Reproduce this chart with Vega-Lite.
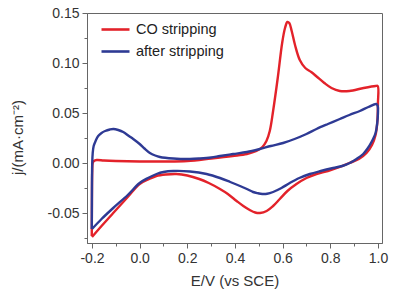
{
"$schema": "https://vega.github.io/schema/vega-lite/v6.json",
"width": 295, "height": 230,
"autosize": {"type": "none"},
"padding": {"left": 87, "top": 13, "right": 28, "bottom": 57},
"config": {
 "font": "Liberation Sans",
 "view": {"stroke": "#666", "strokeWidth": 1},
 "axis": {"grid": false, "domainColor": "#666", "tickColor": "#666", "labelColor": "#333", "titleColor": "#333", "labelFontSize": 14, "titleFontSize": 15, "titleFontWeight": "normal", "labelPadding": 3}
},
"data": {"values": [
{"s":"CO stripping","o":1,"E":-0.201,"j":-0.073},
{"s":"CO stripping","o":2,"E":-0.2005,"j":-0.05},
{"s":"CO stripping","o":3,"E":-0.2,"j":-0.025},
{"s":"CO stripping","o":4,"E":-0.199,"j":-0.008},
{"s":"CO stripping","o":5,"E":-0.197,"j":0.0},
{"s":"CO stripping","o":6,"E":-0.192,"j":0.002},
{"s":"CO stripping","o":7,"E":-0.18,"j":0.003},
{"s":"CO stripping","o":8,"E":-0.15,"j":0.0025},
{"s":"CO stripping","o":9,"E":-0.1,"j":0.002},
{"s":"CO stripping","o":10,"E":0.0,"j":0.0015},
{"s":"CO stripping","o":11,"E":0.1,"j":0.0015},
{"s":"CO stripping","o":12,"E":0.2,"j":0.002},
{"s":"CO stripping","o":13,"E":0.3,"j":0.0045},
{"s":"CO stripping","o":14,"E":0.39,"j":0.007},
{"s":"CO stripping","o":15,"E":0.45,"j":0.009},
{"s":"CO stripping","o":16,"E":0.49,"j":0.012},
{"s":"CO stripping","o":17,"E":0.515,"j":0.016},
{"s":"CO stripping","o":18,"E":0.532,"j":0.022},
{"s":"CO stripping","o":19,"E":0.546,"j":0.032},
{"s":"CO stripping","o":20,"E":0.56,"j":0.052},
{"s":"CO stripping","o":21,"E":0.58,"j":0.086},
{"s":"CO stripping","o":22,"E":0.598,"j":0.12},
{"s":"CO stripping","o":23,"E":0.61,"j":0.135},
{"s":"CO stripping","o":24,"E":0.62,"j":0.141},
{"s":"CO stripping","o":25,"E":0.628,"j":0.14},
{"s":"CO stripping","o":26,"E":0.638,"j":0.132},
{"s":"CO stripping","o":27,"E":0.652,"j":0.118},
{"s":"CO stripping","o":28,"E":0.672,"j":0.103},
{"s":"CO stripping","o":29,"E":0.695,"j":0.095},
{"s":"CO stripping","o":30,"E":0.72,"j":0.091},
{"s":"CO stripping","o":31,"E":0.745,"j":0.086},
{"s":"CO stripping","o":32,"E":0.775,"j":0.08},
{"s":"CO stripping","o":33,"E":0.805,"j":0.075},
{"s":"CO stripping","o":34,"E":0.84,"j":0.072},
{"s":"CO stripping","o":35,"E":0.88,"j":0.072},
{"s":"CO stripping","o":36,"E":0.94,"j":0.075},
{"s":"CO stripping","o":37,"E":0.99,"j":0.077},
{"s":"CO stripping","o":38,"E":0.999,"j":0.077},
{"s":"CO stripping","o":39,"E":1.0,"j":0.06},
{"s":"CO stripping","o":40,"E":0.997,"j":0.04},
{"s":"CO stripping","o":41,"E":0.99,"j":0.028},
{"s":"CO stripping","o":42,"E":0.975,"j":0.018},
{"s":"CO stripping","o":43,"E":0.952,"j":0.010},
{"s":"CO stripping","o":44,"E":0.92,"j":0.004},
{"s":"CO stripping","o":45,"E":0.88,"j":0.0},
{"s":"CO stripping","o":46,"E":0.84,"j":-0.004},
{"s":"CO stripping","o":47,"E":0.79,"j":-0.008},
{"s":"CO stripping","o":48,"E":0.742,"j":-0.011},
{"s":"CO stripping","o":49,"E":0.7,"j":-0.015},
{"s":"CO stripping","o":50,"E":0.658,"j":-0.021},
{"s":"CO stripping","o":51,"E":0.62,"j":-0.028},
{"s":"CO stripping","o":52,"E":0.588,"j":-0.036},
{"s":"CO stripping","o":53,"E":0.56,"j":-0.043},
{"s":"CO stripping","o":54,"E":0.533,"j":-0.048},
{"s":"CO stripping","o":55,"E":0.505,"j":-0.050},
{"s":"CO stripping","o":56,"E":0.485,"j":-0.0495},
{"s":"CO stripping","o":57,"E":0.462,"j":-0.047},
{"s":"CO stripping","o":58,"E":0.435,"j":-0.043},
{"s":"CO stripping","o":59,"E":0.407,"j":-0.038},
{"s":"CO stripping","o":60,"E":0.37,"j":-0.031},
{"s":"CO stripping","o":61,"E":0.337,"j":-0.026},
{"s":"CO stripping","o":62,"E":0.29,"j":-0.020},
{"s":"CO stripping","o":63,"E":0.25,"j":-0.016},
{"s":"CO stripping","o":64,"E":0.2,"j":-0.0125},
{"s":"CO stripping","o":65,"E":0.155,"j":-0.011},
{"s":"CO stripping","o":66,"E":0.11,"j":-0.0115},
{"s":"CO stripping","o":67,"E":0.07,"j":-0.013},
{"s":"CO stripping","o":68,"E":0.04,"j":-0.016},
{"s":"CO stripping","o":69,"E":0.0,"j":-0.021},
{"s":"CO stripping","o":70,"E":-0.05,"j":-0.034},
{"s":"CO stripping","o":71,"E":-0.111,"j":-0.050},
{"s":"CO stripping","o":72,"E":-0.16,"j":-0.063},
{"s":"CO stripping","o":73,"E":-0.2,"j":-0.074},
{"s":"after stripping","o":1,"E":-0.201,"j":-0.066},
{"s":"after stripping","o":2,"E":-0.2005,"j":-0.04},
{"s":"after stripping","o":3,"E":-0.2,"j":-0.015},
{"s":"after stripping","o":4,"E":-0.199,"j":0.0},
{"s":"after stripping","o":5,"E":-0.197,"j":0.010},
{"s":"after stripping","o":6,"E":-0.193,"j":0.017},
{"s":"after stripping","o":7,"E":-0.185,"j":0.022},
{"s":"after stripping","o":8,"E":-0.174,"j":0.027},
{"s":"after stripping","o":9,"E":-0.16,"j":0.030},
{"s":"after stripping","o":10,"E":-0.145,"j":0.032},
{"s":"after stripping","o":11,"E":-0.125,"j":0.0335},
{"s":"after stripping","o":12,"E":-0.11,"j":0.034},
{"s":"after stripping","o":13,"E":-0.09,"j":0.033},
{"s":"after stripping","o":14,"E":-0.069,"j":0.031},
{"s":"after stripping","o":15,"E":-0.045,"j":0.027},
{"s":"after stripping","o":16,"E":-0.027,"j":0.024},
{"s":"after stripping","o":17,"E":0.0,"j":0.019},
{"s":"after stripping","o":18,"E":0.02,"j":0.0145},
{"s":"after stripping","o":19,"E":0.043,"j":0.010},
{"s":"after stripping","o":20,"E":0.065,"j":0.0075},
{"s":"after stripping","o":21,"E":0.085,"j":0.006},
{"s":"after stripping","o":22,"E":0.141,"j":0.0045},
{"s":"after stripping","o":23,"E":0.211,"j":0.004},
{"s":"after stripping","o":24,"E":0.253,"j":0.0045},
{"s":"after stripping","o":25,"E":0.3,"j":0.0055},
{"s":"after stripping","o":26,"E":0.337,"j":0.007},
{"s":"after stripping","o":27,"E":0.392,"j":0.009},
{"s":"after stripping","o":28,"E":0.45,"j":0.011},
{"s":"after stripping","o":29,"E":0.504,"j":0.014},
{"s":"after stripping","o":30,"E":0.55,"j":0.017},
{"s":"after stripping","o":31,"E":0.602,"j":0.020},
{"s":"after stripping","o":32,"E":0.65,"j":0.024},
{"s":"after stripping","o":33,"E":0.7,"j":0.029},
{"s":"after stripping","o":34,"E":0.742,"j":0.034},
{"s":"after stripping","o":35,"E":0.79,"j":0.039},
{"s":"after stripping","o":36,"E":0.84,"j":0.044},
{"s":"after stripping","o":37,"E":0.88,"j":0.048},
{"s":"after stripping","o":38,"E":0.924,"j":0.052},
{"s":"after stripping","o":39,"E":0.96,"j":0.056},
{"s":"after stripping","o":40,"E":0.993,"j":0.059},
{"s":"after stripping","o":41,"E":0.999,"j":0.057},
{"s":"after stripping","o":42,"E":1.0,"j":0.05},
{"s":"after stripping","o":43,"E":0.997,"j":0.04},
{"s":"after stripping","o":44,"E":0.99,"j":0.03},
{"s":"after stripping","o":45,"E":0.973,"j":0.021},
{"s":"after stripping","o":46,"E":0.955,"j":0.014},
{"s":"after stripping","o":47,"E":0.938,"j":0.009},
{"s":"after stripping","o":48,"E":0.91,"j":0.004},
{"s":"after stripping","o":49,"E":0.882,"j":0.0},
{"s":"after stripping","o":50,"E":0.85,"j":-0.003},
{"s":"after stripping","o":51,"E":0.812,"j":-0.005},
{"s":"after stripping","o":52,"E":0.76,"j":-0.008},
{"s":"after stripping","o":53,"E":0.714,"j":-0.011},
{"s":"after stripping","o":54,"E":0.67,"j":-0.015},
{"s":"after stripping","o":55,"E":0.63,"j":-0.020},
{"s":"after stripping","o":56,"E":0.595,"j":-0.025},
{"s":"after stripping","o":57,"E":0.56,"j":-0.029},
{"s":"after stripping","o":58,"E":0.535,"j":-0.0308},
{"s":"after stripping","o":59,"E":0.515,"j":-0.031},
{"s":"after stripping","o":60,"E":0.495,"j":-0.0302},
{"s":"after stripping","o":61,"E":0.476,"j":-0.029},
{"s":"after stripping","o":62,"E":0.45,"j":-0.026},
{"s":"after stripping","o":63,"E":0.421,"j":-0.023},
{"s":"after stripping","o":64,"E":0.38,"j":-0.019},
{"s":"after stripping","o":65,"E":0.337,"j":-0.015},
{"s":"after stripping","o":66,"E":0.281,"j":-0.011},
{"s":"after stripping","o":67,"E":0.211,"j":-0.0085},
{"s":"after stripping","o":68,"E":0.141,"j":-0.008},
{"s":"after stripping","o":69,"E":0.1,"j":-0.009},
{"s":"after stripping","o":70,"E":0.071,"j":-0.011},
{"s":"after stripping","o":71,"E":0.035,"j":-0.015},
{"s":"after stripping","o":72,"E":0.0,"j":-0.020},
{"s":"after stripping","o":73,"E":-0.05,"j":-0.032},
{"s":"after stripping","o":74,"E":-0.111,"j":-0.045},
{"s":"after stripping","o":75,"E":-0.16,"j":-0.056},
{"s":"after stripping","o":76,"E":-0.2,"j":-0.066}
]},
"mark": {"type": "line", "strokeWidth": 2.4, "interpolate": "catmull-rom", "clip": true},
"encoding": {
 "x": {"field": "E", "type": "quantitative",
  "scale": {"domain": [-0.221, 1.017], "nice": false, "zero": false},
  "axis": {"title": "E/V (vs SCE)", "titlePadding": 8,
   "values": [-0.2,-0.1,0,0.1,0.2,0.3,0.4,0.5,0.6,0.7,0.8,0.9,1.0],
   "labelExpr": "abs(round(datum.value*10))%2==0 ? replace(format(datum.value,'.1f'),'\u2212','-') : ''",
   "tickSize": {"condition": {"test": "abs(round(datum.value*10))%2==0", "value": 5}, "value": 3}}},
 "y": {"field": "j", "type": "quantitative",
  "scale": {"domain": [-0.08, 0.15], "nice": false, "zero": false},
  "axis": {"title": "j/(mA·cm⁻²)", "titlePadding": 22, "titleY": 124,
   "values": [-0.075,-0.05,-0.025,0,0.025,0.05,0.075,0.1,0.125,0.15],
   "labelExpr": "abs(round(datum.value*40))%2==0 ? replace(format(datum.value,'.2f'),'\u2212','-') : ''",
   "tickSize": {"condition": {"test": "abs(round(datum.value*40))%2==0", "value": 5}, "value": 3}}},
 "color": {"field": "s", "type": "nominal",
  "scale": {"domain": ["CO stripping", "after stripping"], "range": ["#e3222a", "#2e3a94"]},
  "legend": {"title": null, "orient": "none", "legendX": 13, "legendY": 1, "padding": 0, "symbolType": "stroke", "symbolSize": 784, "symbolStrokeWidth": 2.6, "labelFontSize": 14.5, "labelColor": "#222", "labelOffset": 5, "rowPadding": 0}},
 "order": {"field": "o", "type": "quantitative"}
}
}
